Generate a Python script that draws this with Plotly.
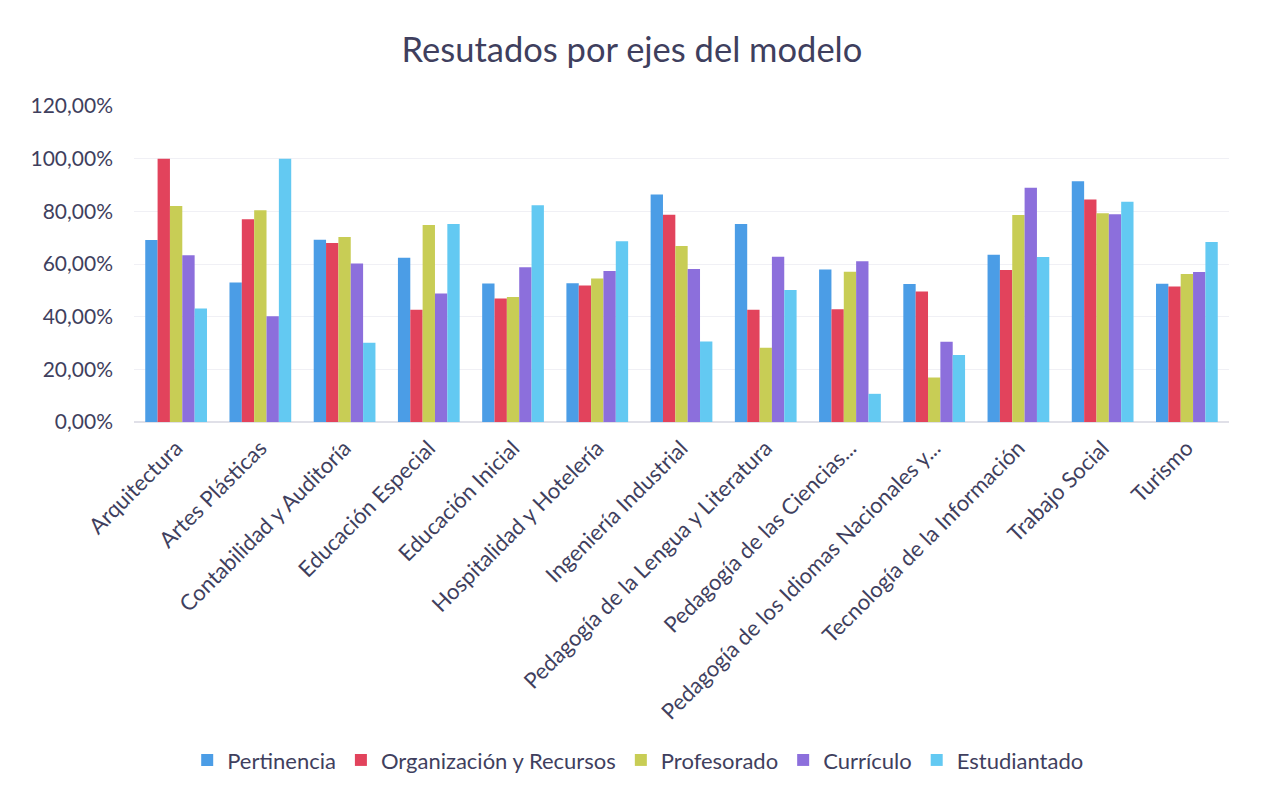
import plotly.graph_objects as go

categories = ["Arquitectura", "Artes Plásticas", "Contabilidad y Auditoría", "Educación Especial",
              "Educación Inicial", "Hospitalidad y Hotelería", "Ingeniería Industrial",
              "Pedagogía de la Lengua y Literatura", "Pedagogía de las Ciencias...",
              "Pedagogía de los Idiomas Nacionales y...", "Tecnología de la Información",
              "Trabajo Social", "Turismo"]

pertinencia = [69.1, 53.0, 69.2, 62.4, 52.6, 52.7, 86.4, 75.2, 57.9, 52.4, 63.5, 91.4, 52.5]
organizacion = [100.0, 77.0, 68.0, 42.6, 46.9, 51.8, 78.7, 42.6, 42.8, 49.6, 57.7, 84.5, 51.5]
profesorado = [82.0, 80.4, 70.3, 74.8, 47.5, 54.5, 66.8, 28.2, 57.1, 16.9, 78.6, 79.3, 56.2]
curriculo = [63.3, 40.2, 60.2, 48.8, 58.8, 57.3, 58.1, 62.8, 61.0, 30.5, 89.0, 78.9, 57.0]
estudiantado = [43.1, 100.0, 30.1, 75.2, 82.3, 68.6, 30.6, 50.1, 10.7, 25.4, 62.7, 83.6, 68.4]

series_names = ["Pertinencia", "Organización y Recursos", "Profesorado", "Currículo", "Estudiantado"]
series_values = [pertinencia, organizacion, profesorado, curriculo, estudiantado]
colors = ["#4b9de6", "#e2435c", "#c8cd55", "#8c6fdc", "#63c9f2"]

tick_vals = [0, 20, 40, 60, 80, 100, 120]
tick_text = ["0,00%", "20,00%", "40,00%", "60,00%", "80,00%", "100,00%", "120,00%"]

text_color = "#3f3f5e"

fig = go.Figure()
for name, vals, c in zip(series_names, series_values, colors):
    fig.add_trace(go.Bar(x=categories, y=vals, name=name, marker=dict(color=c, line=dict(width=0))))

fig.update_layout(
    width=1263, height=798,
    barmode="group", bargap=0.267, bargroupgap=0,
    paper_bgcolor="white", plot_bgcolor="white",
    font=dict(family="Lato, Open Sans, sans-serif", color=text_color, size=21),
    title=dict(text="Resutados por ejes del modelo", x=0.494, xanchor="center", y=0.947, yanchor="middle",
               font=dict(size=34.5, color=text_color)),
    margin=dict(l=126, r=42, t=98, b=384),
    legend=dict(orientation="h", x=0.46, xanchor="center", y=-1.07, yanchor="middle",
                font=dict(size=22, color=text_color), itemwidth=30, traceorder="normal"),
    xaxis=dict(tickangle=-45, showgrid=False, showline=False, ticks="", tickfont=dict(size=22),
               ticklabelstandoff=8),
    yaxis=dict(range=[0, 120], tickvals=tick_vals, ticktext=tick_text, showgrid=True,
               gridcolor="#f0f0f5", gridwidth=1, zeroline=True, zerolinecolor="#e0e0e8",
               tickfont=dict(size=21), ticks="", ticklen=0, ticklabelstandoff=20),
)

fig.write_html("out.html")
